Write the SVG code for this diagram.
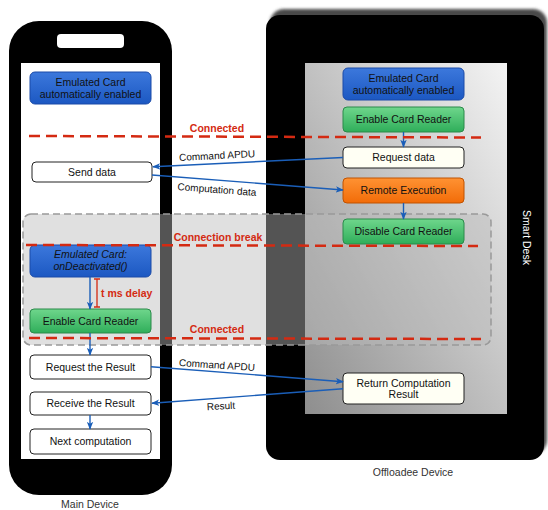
<svg xmlns="http://www.w3.org/2000/svg" width="548" height="510" viewBox="0 0 548 510">
<style>
text{font-family:"Liberation Sans",Arial,sans-serif;font-size:10.5px;fill:#111;text-anchor:middle}
.red{fill:#d42a12;font-weight:bold}
.lbl{font-size:10px;fill:#111}
.dev{fill:#333}
.rl{stroke:#d42a12;stroke-width:2.5;stroke-dasharray:11 6;fill:none}
.ar{stroke:#1a5eb8;stroke-width:1.4;fill:none;marker-end:url(#ah)}
.wn{fill:#fff;stroke:#222;stroke-width:1}
.cn{fill:#fffff4;stroke:#222;stroke-width:1}
.bn{fill:url(#gb);stroke:#1a4aa8;stroke-width:1}
.gn{fill:url(#gg);stroke:#2a8a4a;stroke-width:1}
.on{fill:url(#go);stroke:#c05200;stroke-width:1}
</style>
<defs>
<linearGradient id="gb" x1="0" y1="0" x2="0" y2="1"><stop offset="0" stop-color="#3c78dc"/><stop offset="1" stop-color="#1c58c2"/></linearGradient>
<linearGradient id="gg" x1="0" y1="0" x2="0" y2="1"><stop offset="0" stop-color="#6fd68c"/><stop offset="1" stop-color="#2fae5a"/></linearGradient>
<linearGradient id="go" x1="0" y1="0" x2="0" y2="1"><stop offset="0" stop-color="#ff9233"/><stop offset="1" stop-color="#f26c08"/></linearGradient>
<linearGradient id="gs" x1="1" y1="0" x2="0" y2="1"><stop offset="0" stop-color="#f4f4f4"/><stop offset="1" stop-color="#8e8e8e"/></linearGradient>
<filter id="blur" x="-10%" y="-10%" width="120%" height="120%"><feGaussianBlur stdDeviation="1.5"/></filter>
<marker id="ah" viewBox="0 0 10 8" refX="9" refY="4" markerWidth="8" markerHeight="7" markerUnits="userSpaceOnUse" orient="auto"><path d="M0,0 L10,4 L0,8 L2.5,4 z" fill="#1a5eb8"/></marker>
</defs>

<g id="main-device">
<rect x="9" y="21" width="163" height="474" rx="30" fill="#000"/>
<rect x="57" y="34" width="67" height="14" rx="4" fill="#fff"/>
<rect x="21" y="63" width="139" height="396" fill="#fff"/>
<text class="dev" x="90" y="508">Main Device</text>
</g>

<g id="offloadee-device">
<rect x="270" y="9" width="277" height="445" rx="14" fill="#4a4a4a" filter="url(#blur)"/>
<rect x="266" y="15" width="278" height="445" rx="14" fill="#000"/>
<rect x="305" y="63" width="202" height="351" fill="url(#gs)"/>
<text x="527" y="237.5" transform="rotate(90 527 237.5)" style="fill:#fff" dy="3.7">Smart Desk</text>
<text class="dev" x="413" y="476">Offloadee Device</text>
</g>

<g id="connection-break-zone">
<rect x="23" y="214" width="468" height="131" rx="8" fill="#bbb" fill-opacity="0.45" stroke="#999" stroke-width="1.5" stroke-dasharray="7 4"/>
</g>

<g id="n-emu-left"><rect class="bn" x="30" y="72" width="121" height="32" rx="5"/><text x="90.5" y="85.5">Emulated Card</text><text x="90.5" y="97.5">automatically enabled</text></g>
<g id="n-send"><rect class="wn" x="32" y="162" width="120" height="20" rx="4"/><text x="92" y="175.5">Send data</text></g>
<g id="n-deact"><rect class="bn" x="30" y="245" width="121" height="32" rx="5"/><text x="90.5" y="258" font-style="italic">Emulated Card:</text><text x="90.5" y="270" font-style="italic">onDeactivated()</text></g>
<g id="n-enable-left"><rect class="gn" x="30" y="309" width="121" height="24" rx="4"/><text x="90.5" y="324.5">Enable Card Reader</text></g>
<g id="n-reqres"><rect class="wn" x="30" y="355" width="121" height="24" rx="4"/><text x="90.5" y="370.5">Request the Result</text></g>
<g id="n-recv"><rect class="wn" x="30" y="392" width="121" height="23" rx="4"/><text x="90.5" y="407">Receive the Result</text></g>
<g id="n-next"><rect class="wn" x="30" y="429" width="121" height="25" rx="4"/><text x="90.5" y="445">Next computation</text></g>

<g id="n-emu-right"><rect class="bn" x="343" y="68" width="121" height="32" rx="5"/><text x="403.5" y="81.5">Emulated Card</text><text x="403.5" y="93.5">automatically enabled</text></g>
<g id="n-enable-right"><rect class="gn" x="343" y="107" width="121" height="25" rx="4"/><text x="403.5" y="123">Enable Card Reader</text></g>
<g id="n-reqdata"><rect class="cn" x="343" y="147" width="121" height="21" rx="4"/><text x="403.5" y="161">Request data</text></g>
<g id="n-remote"><rect class="on" x="343" y="178" width="121" height="25" rx="4"/><text x="403.5" y="194">Remote Execution</text></g>
<g id="n-disable"><rect class="gn" x="343" y="219" width="121" height="25" rx="4"/><text x="403.5" y="235">Disable Card Reader</text></g>
<g id="n-return"><rect class="cn" x="343" y="373" width="121" height="31" rx="4"/><text x="403.5" y="386.5">Return Computation</text><text x="403.5" y="398">Result</text></g>

<g id="connectors">
<line class="ar" x1="90" y1="277" x2="90" y2="309"/>
<line class="ar" x1="90" y1="333" x2="90" y2="355"/>
<line class="ar" x1="90" y1="415" x2="90" y2="429"/>
<line class="ar" x1="403.5" y1="132" x2="403.5" y2="147"/>
<line class="ar" x1="403.5" y1="203" x2="403.5" y2="219"/>
<line class="ar" x1="343" y1="157.5" x2="153" y2="166.7"/>
<line class="ar" x1="152" y1="175" x2="343" y2="190"/>
<line class="ar" x1="151" y1="366.7" x2="343" y2="381.7"/>
<line class="ar" x1="343" y1="388.7" x2="152" y2="403.3"/>
<text class="lbl" x="217" y="159" transform="rotate(-3 217 155)">Command APDU</text>
<text class="lbl" x="217" y="193" transform="rotate(4.3 217 189)">Computation data</text>
<text class="lbl" x="217" y="368.5" transform="rotate(3.7 217 365)">Command APDU</text>
<text class="lbl" x="221" y="409.5" transform="rotate(-3 221 406)">Result</text>
</g>

<g id="connection-lines">
<line class="rl" x1="29" y1="136" x2="481" y2="137.5"/>
<line class="rl" x1="26" y1="245" x2="478" y2="246"/>
<line class="rl" x1="29" y1="338" x2="481" y2="339"/>
<text class="red" x="217" y="131.5">Connected</text>
<text class="red" x="218" y="240.5">Connection break</text>
<text class="red" x="217" y="333">Connected</text>
<g id="delay">
<path d="M97,279 V307 M94,279 H100 M94,307 H100" stroke="#d42a12" stroke-width="1.3" fill="none"/>
<text class="red" x="101" y="297" style="text-anchor:start">t ms delay</text>
</g>
</g>
</svg>
